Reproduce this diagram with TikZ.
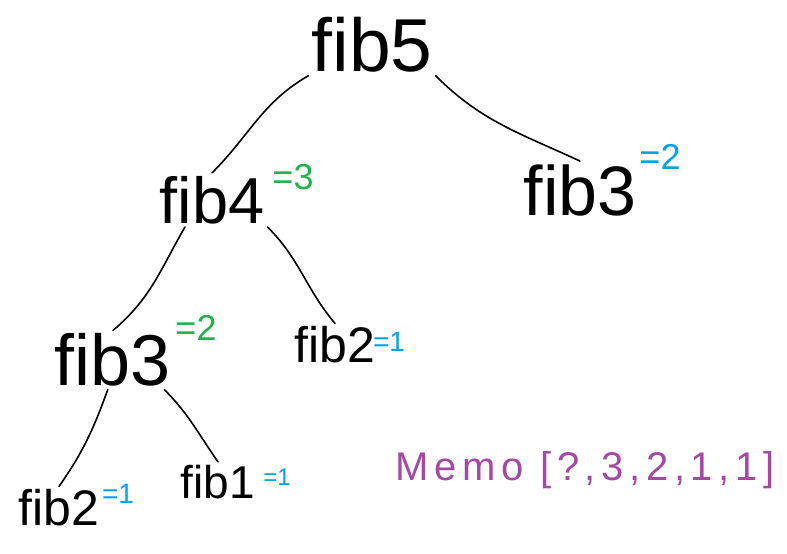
\documentclass[tikz,border=0pt]{standalone}
\usepackage{fontspec}
\setmainfont{Liberation Sans}
\newfontfamily\memofont[LetterSpace=14]{Liberation Sans}

\definecolor{paintgreen}{RGB}{34,177,76}
\definecolor{paintblue}{RGB}{0,162,232}
\definecolor{paintpurple}{RGB}{163,73,164}

\begin{document}
\begin{tikzpicture}[x=1pt,y=1pt,
  hand/.style={font=\fontsize{#1}{#1}\selectfont, inner sep=3pt},
  edge/.style={line width=1.6pt, line cap=round}]

\useasboundingbox (0,0) rectangle (787,554);

\node[hand=75] (fib5) at (372,509) {fib5};

\node[hand=65] (fib4) at (212,354) {fib4};
\node[hand=36, text=paintgreen] (fib4val) at (293,377) {=3};

\node[hand=70] (fib3r) at (580,364) {fib3};
\node[hand=36, text=paintblue] (fib3rval) at (660,397) {=2};

\node[hand=72] (fib3l) at (113,194) {fib3};
\node[hand=36, text=paintgreen] (fib3lval) at (196,226) {=2};

\node[hand=50] (fib2m) at (335,209) {fib2};
\node[hand=28, text=paintblue] (fib2mval) at (389,212) {=1};

\node[hand=50] (fib2b) at (59,46) {fib2};
\node[hand=28, text=paintblue] (fib2bval) at (118,60) {=1};

\node[hand=46] (fib1) at (218,72) {fib1};
\node[hand=24, text=paintblue] (fib1val) at (277,77) {=1};

\node[hand=40, text=paintpurple] (memo) at (585,84) {\memofont Memo [?,3,2,1,1]};

\draw[edge](fib5.south west)to[out=210,in=45](fib4.north);
\draw[edge](fib5.south east)to[out=-45,in=155](fib3r.north);

\draw[edge](fib4.225)to[out=-120,in=40](fib3l.north);
\draw[edge](fib4.south east)to[out=-45,in=130](fib2m.north);

\draw[edge](fib3l.-100)to[out=-110,in=55](fib2b.north);
\draw[edge](fib3l.-30)to[out=-45,in=125](fib1.north);

\end{tikzpicture}
\end{document}
